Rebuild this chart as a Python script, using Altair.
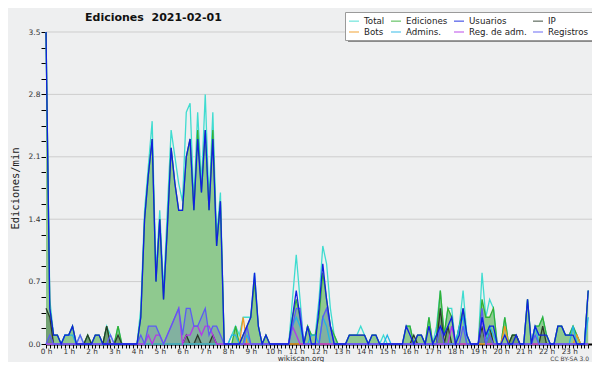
import altair as alt
import pandas as pd

# ---- data (edits per minute, one value per 10-minute slot, 144 slots) ----
times = [i / 6 for i in range(144)]

total = [
    3.5, 0.5, 0.1, 0.1, 0, 0.1,      # 0 h
    0.1, 0.2, 0, 0.1, 0, 0.1,        # 1 h
    0, 0.1, 0.1, 0, 0.2, 0.1,        # 2 h
    0, 0.2, 0, 0, 0, 0,              # 3 h
    0, 0.4, 1.5, 2.0, 2.5, 0.8,      # 4 h
    1.5, 0.6, 1.5, 2.4, 2.1, 1.8,    # 5 h
    1.6, 2.6, 2.7, 1.6, 2.6, 1.8,    # 6 h
    2.8, 1.6, 2.6, 1.2, 1.7, 0,      # 7 h
    0, 0.1, 0.2, 0.1, 0.3, 0.3,      # 8 h
    0.3, 0.8, 0.2, 0, 0.1, 0,        # 9 h
    0, 0, 0, 0, 0, 0.5,              # 10 h
    1.0, 0.5, 0, 0.2, 0.1, 0.1,      # 11 h
    0.5, 1.1, 0.9, 0.4, 0.1, 0,      # 12 h
    0, 0, 0.1, 0.1, 0.1, 0.2,        # 13 h
    0.1, 0, 0.1, 0.1, 0, 0.1,        # 14 h
    0, 0, 0, 0, 0, 0.2,              # 15 h
    0.2, 0, 0.1, 0.1, 0, 0.3,        # 16 h
    0, 0.2, 0.6, 0.1, 0.4, 0.4,      # 17 h
    0, 0.2, 0.6, 0.1, 0, 0,          # 18 h
    0, 0.8, 0.3, 0.5, 0.4, 0,        # 19 h
    0, 0.3, 0, 0.1, 0.1, 0,          # 20 h
    0, 0.5, 0, 0.2, 0.2, 0.3,        # 21 h
    0.1, 0, 0, 0.2, 0.2, 0.1,        # 22 h
    0.1, 0.2, 0.1, 0, 0, 0.6,        # 23 h
]

ediciones = [
    3.5, 0.4, 0.1, 0.1, 0, 0.1,
    0.1, 0.2, 0, 0, 0, 0.1,
    0, 0.1, 0.1, 0, 0.2, 0,
    0, 0.2, 0, 0, 0, 0,
    0, 0.3, 1.4, 1.9, 2.3, 0.7,
    1.4, 0.5, 1.3, 2.2, 1.8, 1.5,
    1.5, 2.1, 2.3, 1.5, 2.4, 1.7,
    2.4, 1.5, 2.4, 1.1, 1.6, 0,
    0, 0, 0.2, 0, 0.1, 0.2,
    0.3, 0.7, 0.2, 0, 0.1, 0,
    0, 0, 0, 0, 0, 0.3,
    0.5, 0.3, 0, 0.2, 0.1, 0.1,
    0.3, 0.8, 0.5, 0.2, 0.1, 0,
    0, 0, 0.1, 0.1, 0.1, 0.1,
    0.1, 0, 0.1, 0.1, 0, 0,
    0, 0, 0, 0, 0, 0.2,
    0.2, 0, 0.1, 0.1, 0, 0.3,
    0, 0.1, 0.6, 0.1, 0.4, 0.3,
    0, 0.2, 0.4, 0.1, 0, 0,
    0, 0.5, 0.3, 0.3, 0.4, 0,
    0, 0.3, 0, 0.1, 0.1, 0,
    0, 0.5, 0, 0.2, 0.2, 0.3,
    0.1, 0, 0, 0.2, 0.2, 0.1,
    0.1, 0.2, 0.1, 0, 0, 0.6,
]

usuarios = [
    3.5, 0.4, 0.1, 0.1, 0, 0.1,
    0.1, 0.2, 0, 0, 0, 0,
    0, 0.1, 0.1, 0, 0, 0,
    0, 0, 0, 0, 0, 0,
    0, 0.3, 1.4, 1.9, 2.3, 0.7,
    1.4, 0.5, 1.3, 2.2, 1.8, 1.5,
    1.5, 2.1, 2.3, 1.5, 2.3, 1.7,
    2.4, 1.5, 2.3, 1.1, 1.6, 0,
    0, 0, 0, 0, 0.1, 0.2,
    0.3, 0.8, 0.2, 0, 0.1, 0,
    0, 0, 0, 0, 0, 0.3,
    0.6, 0.3, 0, 0.2, 0, 0,
    0.4, 0.9, 0.5, 0.2, 0, 0,
    0, 0, 0.1, 0.1, 0.1, 0.1,
    0.1, 0, 0.1, 0.1, 0, 0,
    0, 0, 0, 0, 0, 0.2,
    0.1, 0, 0.1, 0.1, 0, 0.2,
    0, 0.1, 0.2, 0.1, 0.2, 0.3,
    0, 0.1, 0.4, 0.1, 0, 0,
    0, 0.3, 0.1, 0.2, 0.2, 0,
    0, 0.1, 0, 0, 0.1, 0,
    0, 0.5, 0, 0.2, 0.1, 0.1,
    0.1, 0, 0, 0.2, 0.2, 0.1,
    0.1, 0.1, 0, 0, 0, 0.6,
]

ip = [
    0.4, 0.3, 0, 0, 0, 0,
    0, 0, 0, 0, 0, 0.1,
    0, 0, 0, 0, 0.2, 0,
    0, 0.1, 0, 0, 0, 0,
    0, 0, 0, 0, 0, 0,
    0, 0, 0, 0, 0, 0,
    0, 0.1, 0, 0, 0.1, 0,
    0, 0, 0.1, 0, 0, 0,
    0, 0, 0, 0, 0, 0,
    0, 0, 0, 0, 0, 0,
    0, 0, 0, 0, 0, 0,
    0, 0, 0, 0, 0, 0,
    0, 0, 0, 0, 0, 0,
    0, 0, 0, 0, 0, 0,
    0, 0, 0, 0, 0, 0,
    0, 0, 0, 0, 0, 0,
    0, 0.1, 0, 0, 0, 0,
    0, 0, 0.4, 0, 0.2, 0,
    0, 0, 0, 0, 0, 0,
    0, 0.2, 0, 0.2, 0, 0,
    0, 0, 0, 0.1, 0.1, 0,
    0, 0, 0, 0, 0, 0.2,
    0, 0, 0, 0, 0, 0,
    0, 0, 0, 0, 0, 0,
]

bots = [
    0, 0, 0, 0, 0, 0,
    0, 0, 0, 0, 0, 0,
    0, 0, 0, 0, 0, 0,
    0, 0, 0, 0, 0, 0,
    0, 0, 0, 0, 0, 0,
    0, 0, 0, 0, 0, 0,
    0, 0, 0, 0, 0, 0,
    0, 0, 0, 0, 0, 0,
    0, 0, 0, 0, 0.3, 0,
    0, 0, 0, 0, 0, 0,
    0, 0, 0, 0, 0, 0,
    0, 0, 0, 0, 0, 0,
    0, 0, 0, 0, 0, 0,
    0, 0, 0, 0, 0, 0,
    0, 0, 0, 0, 0, 0,
    0, 0, 0, 0, 0, 0,
    0, 0, 0, 0, 0, 0,
    0, 0, 0, 0, 0, 0,
    0, 0, 0, 0, 0, 0,
    0, 0, 0, 0, 0, 0,
    0, 0.2, 0, 0, 0, 0,
    0, 0, 0, 0, 0, 0,
    0, 0, 0, 0, 0, 0,
    0, 0, 0.1, 0, 0, 0,
]

admins = [
    0, 0, 0, 0, 0, 0.1,
    0.1, 0.1, 0, 0, 0, 0,
    0, 0, 0, 0, 0, 0,
    0, 0, 0, 0, 0, 0,
    0, 0, 0, 0, 0, 0,
    0, 0, 0, 0, 0, 0,
    0, 0, 0, 0, 0, 0,
    0, 0, 0, 0, 0, 0,
    0, 0.1, 0.1, 0, 0, 0.1,
    0, 0, 0, 0, 0, 0,
    0, 0, 0, 0, 0, 0.2,
    0.3, 0.2, 0, 0, 0.1, 0.1,
    0, 0.3, 0.2, 0, 0, 0,
    0, 0, 0, 0, 0, 0,
    0, 0, 0, 0, 0, 0,
    0.1, 0, 0, 0, 0, 0,
    0, 0, 0, 0, 0, 0,
    0, 0, 0, 0, 0, 0,
    0, 0.2, 0.3, 0, 0, 0,
    0, 0.3, 0, 0.2, 0.1, 0,
    0, 0, 0, 0, 0, 0,
    0, 0, 0, 0.2, 0, 0,
    0, 0, 0, 0, 0, 0,
    0, 0.2, 0, 0, 0, 0.3,
]

reg_adm = [
    0, 0, 0, 0, 0, 0,
    0, 0, 0, 0, 0, 0,
    0, 0, 0, 0, 0, 0,
    0, 0, 0, 0, 0, 0,
    0, 0, 0, 0.1, 0, 0.1,
    0.1, 0, 0.1, 0.2, 0.3, 0.4,
    0, 0.1, 0.1, 0.2, 0.2, 0.1,
    0.2, 0.2, 0.1, 0, 0, 0,
    0, 0, 0, 0, 0, 0,
    0, 0, 0, 0, 0, 0,
    0, 0, 0, 0, 0, 0.2,
    0.1, 0, 0, 0, 0, 0,
    0, 0, 0, 0, 0, 0,
    0, 0, 0, 0, 0, 0,
    0, 0, 0, 0, 0, 0,
    0, 0, 0, 0, 0, 0,
    0, 0, 0, 0, 0, 0,
    0, 0, 0, 0, 0, 0.2,
    0, 0, 0, 0, 0, 0,
    0, 0.3, 0, 0, 0, 0,
    0, 0, 0, 0, 0, 0,
    0, 0, 0, 0, 0, 0,
    0, 0, 0, 0, 0, 0,
    0, 0, 0, 0, 0, 0,
]

registros = [
    0, 0.1, 0, 0, 0, 0,
    0, 0, 0, 0.1, 0, 0,
    0, 0, 0, 0, 0, 0.1,
    0, 0, 0, 0, 0, 0,
    0, 0.1, 0, 0.2, 0.2, 0.2,
    0.1, 0, 0.1, 0.2, 0.3, 0.4,
    0.1, 0.4, 0.4, 0.2, 0.2, 0.3,
    0.4, 0.1, 0.2, 0.2, 0.1, 0,
    0, 0, 0, 0, 0, 0.2,
    0, 0, 0, 0, 0, 0,
    0, 0, 0, 0, 0, 0.2,
    0.4, 0.4, 0, 0, 0, 0,
    0, 0.3, 0.4, 0.2, 0, 0,
    0, 0, 0, 0, 0, 0,
    0, 0, 0, 0, 0, 0,
    0, 0, 0, 0, 0, 0,
    0, 0, 0, 0, 0, 0,
    0, 0, 0.2, 0, 0, 0,
    0, 0, 0.2, 0, 0, 0,
    0, 0.4, 0, 0.1, 0, 0,
    0, 0, 0, 0, 0, 0,
    0, 0, 0, 0.1, 0, 0,
    0, 0, 0, 0, 0, 0,
    0, 0, 0, 0, 0, 0,
]

names = ["Total", "Ediciones", "Usuarios", "IP",
         "Bots", "Admins.", "Reg. de adm.", "Registros"]
colors = ["#3fdcd0", "#35b035", "#1020e0", "#2a3a2a",
          "#f09a20", "#22b4e6", "#b438e8", "#5c5cf4"]
series_values = [total, ediciones, usuarios, ip, bots, admins, reg_adm, registros]

grid_vals = [0.7, 1.4, 2.1, 2.8, 3.5]
y_tick_vals = [round(k * 0.175, 3) for k in range(21)]
x_tick_vals = [k / 6 for k in range(145)]

title_text = "Ediciones\u00a0 2021-02-01"
y_title = "Ediciones/min"
footer_center = "wikiscan.org"
footer_right = "CC BY-SA 3.0"

# ---- build long table ----
rows = []
for name, vals in zip(names, series_values):
    for t, v in zip(times, vals):
        rows.append({"series": name, "t": t, "v": v})
long_df = pd.DataFrame(rows)

W, H = 546, 312

x_axis = alt.Axis(
    values=x_tick_vals,
    labelExpr="datum.value < 23.99 && abs(datum.value - round(datum.value)) < 0.01 ? round(datum.value) + ' h' : ''",
    tickSize=4, tickColor="black", domainColor="black", domainWidth=2,
    labelFontSize=7.3, labelColor="#333", labelPadding=-1, labelOverlap=False,
    labelFlush=False, grid=False, title=None,
)
y_axis = alt.Axis(
    values=y_tick_vals,
    labelExpr="abs(datum.value / 0.7 - round(datum.value / 0.7)) < 0.01 ? format(datum.value, '.1f') : ''",
    tickSize=5, tickColor="black", domainColor="black", domainWidth=1,
    labelFontSize=7.5, labelColor="#333", labelPadding=1, labelOverlap=False,
    labelFlush=False, grid=False,
    title=y_title, titleFont="DejaVu Sans Mono", titleFontSize=10.5,
    titleFontWeight="normal", titleColor="#222", titleAngle=270,
    titleX=-26, titleY=H / 2, titleAlign="center", titleBaseline="bottom",
)

X = alt.X("t:Q", scale=alt.Scale(domain=[0, 24], nice=False, zero=False), axis=x_axis)
Y = alt.Y("v:Q", scale=alt.Scale(domain=[0, 3.5], nice=False), axis=y_axis)

color_scale = alt.Scale(domain=names, range=colors)
legend = alt.Legend(
    orient="none", legendX=299, legendY=-20, columns=4, direction="horizontal",
    symbolType="stroke", symbolSize=100, symbolStrokeWidth=1.2, symbolOpacity=0.75,
    labelFont="DejaVu Sans", labelFontSize=8.7, labelColor="#222", labelOffset=4,
    fillColor="white", strokeColor="#9a9a9a", padding=3, rowPadding=0,
    columnPadding=3, title=None,
)

dummy = pd.DataFrame({"a": [0]})

shadow = alt.Chart(dummy).mark_rect(color="#8a8a8a").encode(
    x=alt.value(302), x2=alt.value(548), y=alt.value(-17), y2=alt.value(10)
)

grid = alt.Chart(pd.DataFrame({"v": grid_vals})).mark_rule(
    color="#cdcdcd", strokeWidth=1
).encode(y=Y)

area_ed = alt.Chart(long_df).transform_filter(
    alt.datum.series == "Ediciones"
).mark_area(color="#8fc98f", opacity=1).encode(x=X, y=Y)

area_reg = alt.Chart(long_df).transform_filter(
    alt.datum.series == "Registros"
).mark_area(color="#4a4af0", opacity=0.18).encode(x=X, y=Y)

area_ip = alt.Chart(long_df).transform_filter(
    alt.datum.series == "IP"
).mark_area(color="#203020", opacity=0.25).encode(x=X, y=Y)

draw_order = ["Total", "Ediciones", "IP", "Bots", "Admins.",
              "Reg. de adm.", "Registros", "Usuarios"]
line_layers = []
for name in draw_order:
    line_layers.append(
        alt.Chart(long_df).transform_filter(alt.datum.series == name)
        .mark_line(strokeWidth=1.3)
        .encode(x=X, y=Y, color=alt.Color("series:N", scale=color_scale, legend=legend))
    )

title_mark = alt.Chart(pd.DataFrame({"label": [title_text]})).mark_text(
    align="left", baseline="alphabetic", font="DejaVu Sans", fontSize=11,
    fontWeight="bold", color="#111"
).encode(text="label:N", x=alt.value(39), y=alt.value(-11))

footer_c = alt.Chart(pd.DataFrame({"label": [footer_center]})).mark_text(
    align="center", baseline="alphabetic", font="DejaVu Sans", fontSize=7.5, color="#333"
).encode(text="label:N", x=alt.value(255), y=alt.value(329))

footer_r = alt.Chart(pd.DataFrame({"label": [footer_right]})).mark_text(
    align="right", baseline="alphabetic", font="DejaVu Sans", fontSize=6, color="#444"
).encode(text="label:N", x=alt.value(543), y=alt.value(329))

chart = alt.layer(
    grid, area_ed, area_reg, area_ip, *line_layers,
    shadow, title_mark, footer_c, footer_r,
).properties(
    width=W, height=H,
    autosize=alt.AutoSizeParams(type="none"),
    padding={"left": 38, "top": 24, "right": 0, "bottom": 18},
    background="#eeeff0",
).configure_view(strokeWidth=0).configure_axis(labelFont="DejaVu Sans")

chart.save("out.html", embed_options={"renderer": "svg", "actions": False})
